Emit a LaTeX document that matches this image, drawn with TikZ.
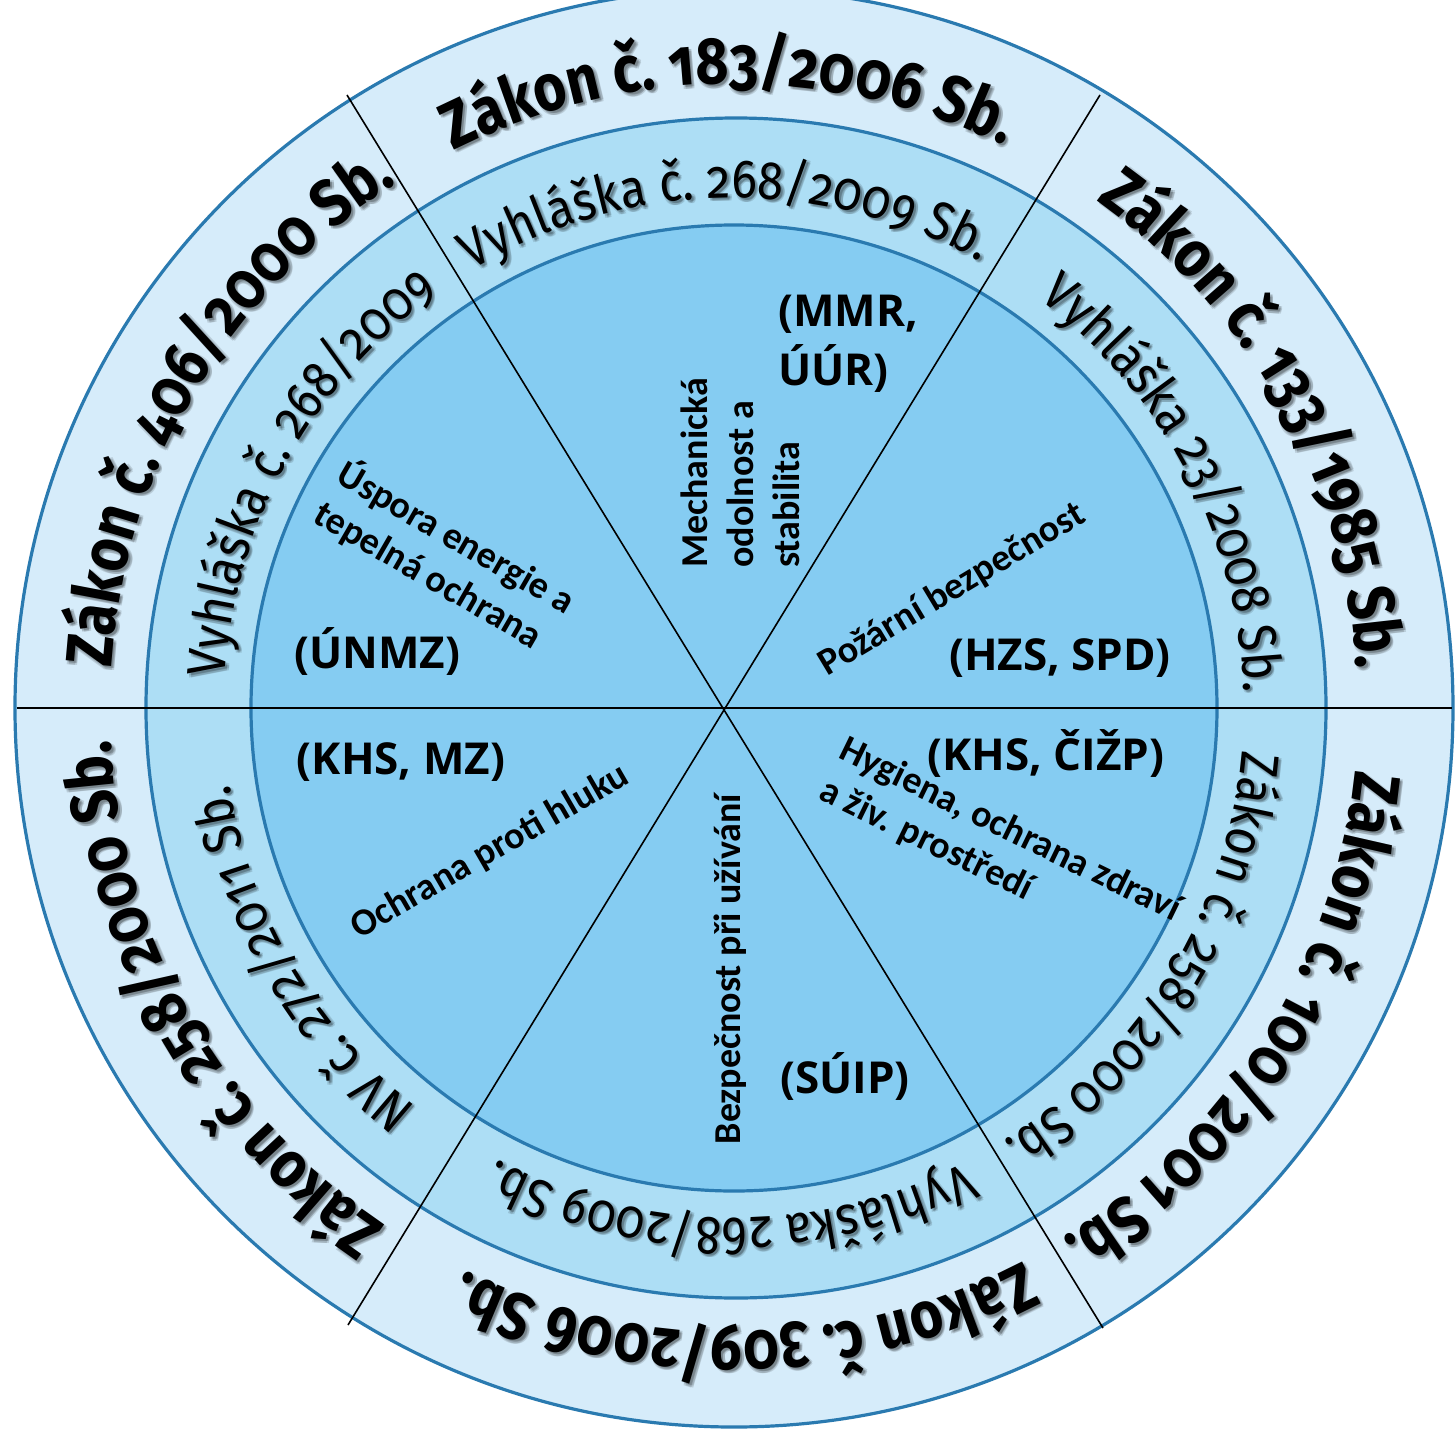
\documentclass[tikz,border=0pt]{standalone}
\usepackage{fontspec}
\setmainfont{Carlito}
\newfontfamily\outerringfont{Fira Sans}[Numbers=OldStyle, FakeStretch=0.86]
\newfontfamily\middleringfont{Fira Sans}[Numbers=OldStyle, FakeStretch=0.88]
\newfontfamily\labfont{Open Sans}
\usetikzlibrary{decorations.text}

\definecolor{ringout}{RGB}{214,236,250}
\definecolor{ringmid}{RGB}{173,222,245}
\definecolor{ringin}{RGB}{133,204,242}
\definecolor{ringline}{RGB}{42,122,176}

\newcommand\outerfmt{\outerringfont\bfseries\fontsize{66}{72}\selectfont}
\newcommand\middlefmt{\middleringfont\fontsize{54}{60}\selectfont}

% #1 centre angle, #2 baseline radius, #3 format macro, #4 text
\newcommand\curvedlabel[4]{%
  \foreach \sx/\sy in {2/-2, 3.5/-3.5, 3.5/-1.5, 1.5/-3.5}{%
    \begin{scope}[opacity=0.13, shift={(\sx,\sy)}]
      \path[decorate, decoration={text along path, text align=center, text={|#3|#4}}]
        (#1+70:#2) arc[start angle=#1+70, end angle=#1-70, radius=#2];
    \end{scope}
  }%
  \path[decorate, decoration={text along path, text align=center, text={|#3|#4}}]
    (#1+70:#2) arc[start angle=#1+70, end angle=#1-70, radius=#2];
}

\tikzset{
  ring/.style={draw=ringline, line width=3.2pt},
  divider/.style={draw=black, line width=1.6pt},
  sector/.style={font=\bfseries\fontsize{38}{46}\selectfont, align=left, inner sep=0pt},
  agency/.style={font=\labfont\bfseries\fontsize{44}{59}\selectfont, align=left, inner sep=0pt},
}

\begin{document}
\begin{tikzpicture}[x=1pt, y=1pt]
  \useasboundingbox (-734,-720) rectangle (721,708);
  \fill[white] (-734,-720) rectangle (721,708);

  % rings
  \path[ring, fill=ringout] (0,0) circle[radius=719];
  \path[ring, fill=ringmid] (2,0) circle[radius=590];
  \path[ring, fill=ringin] (0,0) circle[radius=483];

  % dividing lines
  \coordinate (hl) at (-717,0);
  \coordinate (hr) at (718,0);
  \coordinate (tl) at (-387,613);
  \coordinate (br) at (369,-620);
  \coordinate (tr) at (366,613);
  \coordinate (bl) at (-386,-617);
  \draw[divider] (hl) -- (hr);
  \draw[divider] (tl) -- (br);
  \draw[divider] (tr) -- (bl);

  % outer ring
  \curvedlabel{90.5}{624}{\outerfmt}{Zákon č. 183/2006 Sb.}
  \curvedlabel{29}{624}{\outerfmt}{Zákon č. 133/1985 Sb.}
  \curvedlabel{-32}{624}{\outerfmt}{Zákon č. 100/2001 Sb.}
  \curvedlabel{-89}{624}{\outerfmt}{Zákon č. 309/2006 Sb.}
  \curvedlabel{209.5}{624}{\outerfmt}{Zákon č. 258/2000 Sb.}
  \curvedlabel{149.5}{624}{\outerfmt}{Zákon č. 406/2000 Sb.}

  % middle ring
  \curvedlabel{91}{510}{\middlefmt}{Vyhláška č. 268/2009 Sb.}
  \curvedlabel{27.5}{510}{\middlefmt}{Vyhláška 23/2008 Sb.}
  \curvedlabel{-31.5}{510}{\middlefmt}{Zákon č. 258/2000 Sb.}
  \curvedlabel{-90.4}{510}{\middlefmt}{Vyhláška 268/2009 Sb.}
  \curvedlabel{210}{510}{\middlefmt}{NV č. 272/2011 Sb.}
  \curvedlabel{151}{510}{\middlefmt}{Vyhláška č. 268/2009}

  % inner sectors
  \node[sector, rotate=90] (mech) at (6,235) {Mechanická\\odolnost a\\stabilita};
  \node[agency, anchor=north west] (mmr) at (44,413) {(MMR,\\ÚÚR)};
  \node[sector, rotate=31] (pozar) at (218,118) {Požární bezpečnost};
  \node[agency, anchor=base] (hzs) at (326,38) {(HZS, SPD)};
  \node[agency, anchor=base] (khs1) at (312,-62) {(KHS, ČIŽP)};
  \node[sector, rotate=-26] (hyg) at (266,-143) {Hygiena, ochrana zdraví\\a živ. prostředí};
  \node[sector, rotate=90] (bezp) at (-4,-261) {Bezpečnost při užívání};
  \node[agency, anchor=base] (suip) at (111,-385) {(SÚIP)};
  \node[agency, anchor=base] (khs2) at (-333,-66) {(KHS, MZ)};
  \node[sector, rotate=30] (hluk) at (-244,-144) {Ochrana proti hluku};
  \node[sector, rotate=-30] (uspora) at (-289,151) {Úspora energie a\\tepelná ochrana};
  \node[agency, anchor=base] (unmz) at (-357,40) {(ÚNMZ)};
\end{tikzpicture}
\end{document}
